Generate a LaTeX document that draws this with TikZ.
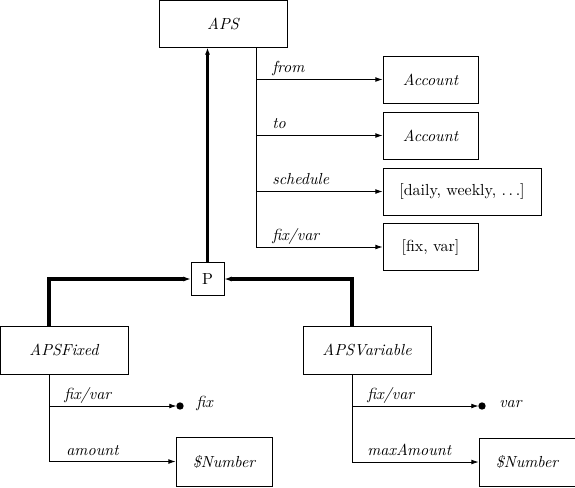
\documentclass[tikz,border=0pt]{standalone}
\usetikzlibrary{arrows.meta,calc}
\begin{document}
\begin{tikzpicture}[x=0.625pt,y=-0.625pt,
  box/.style={draw,line width=0.5pt,inner sep=0pt,font=\itshape},
  thin/.style={line width=0.5pt},
  tip/.style={thin,-{Latex[length=4.5pt,width=3pt]}},
  fat/.style={line width=1.9pt},
  fattip/.style={line width=2pt,-{Latex[length=4.5pt,width=3.2pt]}},
  lbl/.style={anchor=base west,inner sep=0pt,font=\itshape},
  dotn/.style={circle,fill=black,inner sep=0pt,minimum size=4.6pt}]
\useasboundingbox (0,0) rectangle (575,487);
% boxes
\node[box,minimum width=80pt,minimum height=29.4pt] (aps) at (223,23.5) {APS};
\node[box,minimum width=59.4pt,minimum height=29.4pt] (acc1) at (430.5,79.5) {Account};
\node[box,minimum width=59.4pt,minimum height=29.4pt] (acc2) at (430.5,135.5) {Account};
\node[box,minimum width=98.75pt,minimum height=29.4pt,font=\upshape] (sched) at (462,191.5) {[daily, weekly, $\ldots$]};
\node[box,minimum width=59.4pt,minimum height=29pt,font=\upshape] (fv) at (430.5,247) {[fix, var]};
\node[box,minimum width=20.6pt,minimum height=20.6pt,font=\upshape] (p) at (207.5,279) {P};
\node[box,minimum width=80pt,minimum height=30pt] (fixed) at (64,350) {APSFixed};
\node[box,minimum width=80pt,minimum height=30pt] (var) at (367,350) {APSVariable};
\node[box,minimum width=60pt,minimum height=30.6pt] (num1) at (224,461.5) {\$Number};
\node[box,minimum width=60pt,minimum height=30pt] (num2) at (527,462) {\$Number};
\node[dotn] (d1) at (180,406) {};
\node[dotn] (d2) at (482,406) {};
\node[lbl] (d1l) at (196,407) {fix};
\node[lbl] (d2l) at (499,407) {var};
% top spine
\coordinate (s1) at (256,79.5);
\coordinate (s2) at (256,135.5);
\coordinate (s3) at (256,191.5);
\coordinate (s4) at (256,247);
\draw[thin] (aps.south -| s1) -- (s4);
\draw[tip] (s1) -- (s1 -| acc1.west);
\draw[tip] (s2) -- (s2 -| acc2.west);
\draw[tip] (s3) -- (s3 -| sched.west);
\draw[tip] (s4) -- (s4 -| fv.west);
\node[lbl] (l1) at ($(s1)+(16,-7)$) {from};
\node[lbl] (l2) at ($(s2)+(16,-7)$) {to};
\node[lbl] (l3) at ($(s3)+(16,-7)$) {schedule};
\node[lbl] (l4) at ($(s4)+(16,-7)$) {fix/var};
% inheritance
\coordinate (fx) at (49,0);
\coordinate (vx) at (352,0);
\draw[fattip] (p.north) -- (p.north |- aps.south);
\draw[fattip] (fixed.north -| fx) |- (p.west);
\draw[fattip] (var.north -| vx) |- (p.east);
% APSFixed attributes
\coordinate (f1) at (49,406);
\coordinate (f2) at (49,461.5);
\draw[thin] (fixed.south -| fx) -- (f2);
\draw[tip,shorten >=-0.3pt] (f1) -- (d1.west);
\draw[tip] (f2) -- (f2 -| num1.west);
\node[lbl] (fl1) at ($(f1)+(15,-7)$) {fix/var};
\node[lbl] (fl2) at ($(f1)+(17,49)$) {amount};
% APSVariable attributes
\coordinate (v1) at (352,406);
\coordinate (v2) at (352,462);
\draw[thin] (var.south -| vx) -- (v2);
\draw[tip,shorten >=-0.3pt] (v1) -- (d2.west);
\draw[tip] (v2) -- (v2 -| num2.west);
\node[lbl] (vl1) at ($(v1)+(15,-7)$) {fix/var};
\node[lbl] (vl2) at ($(v2)+(15,-7)$) {maxAmount};
\end{tikzpicture}
\end{document}
